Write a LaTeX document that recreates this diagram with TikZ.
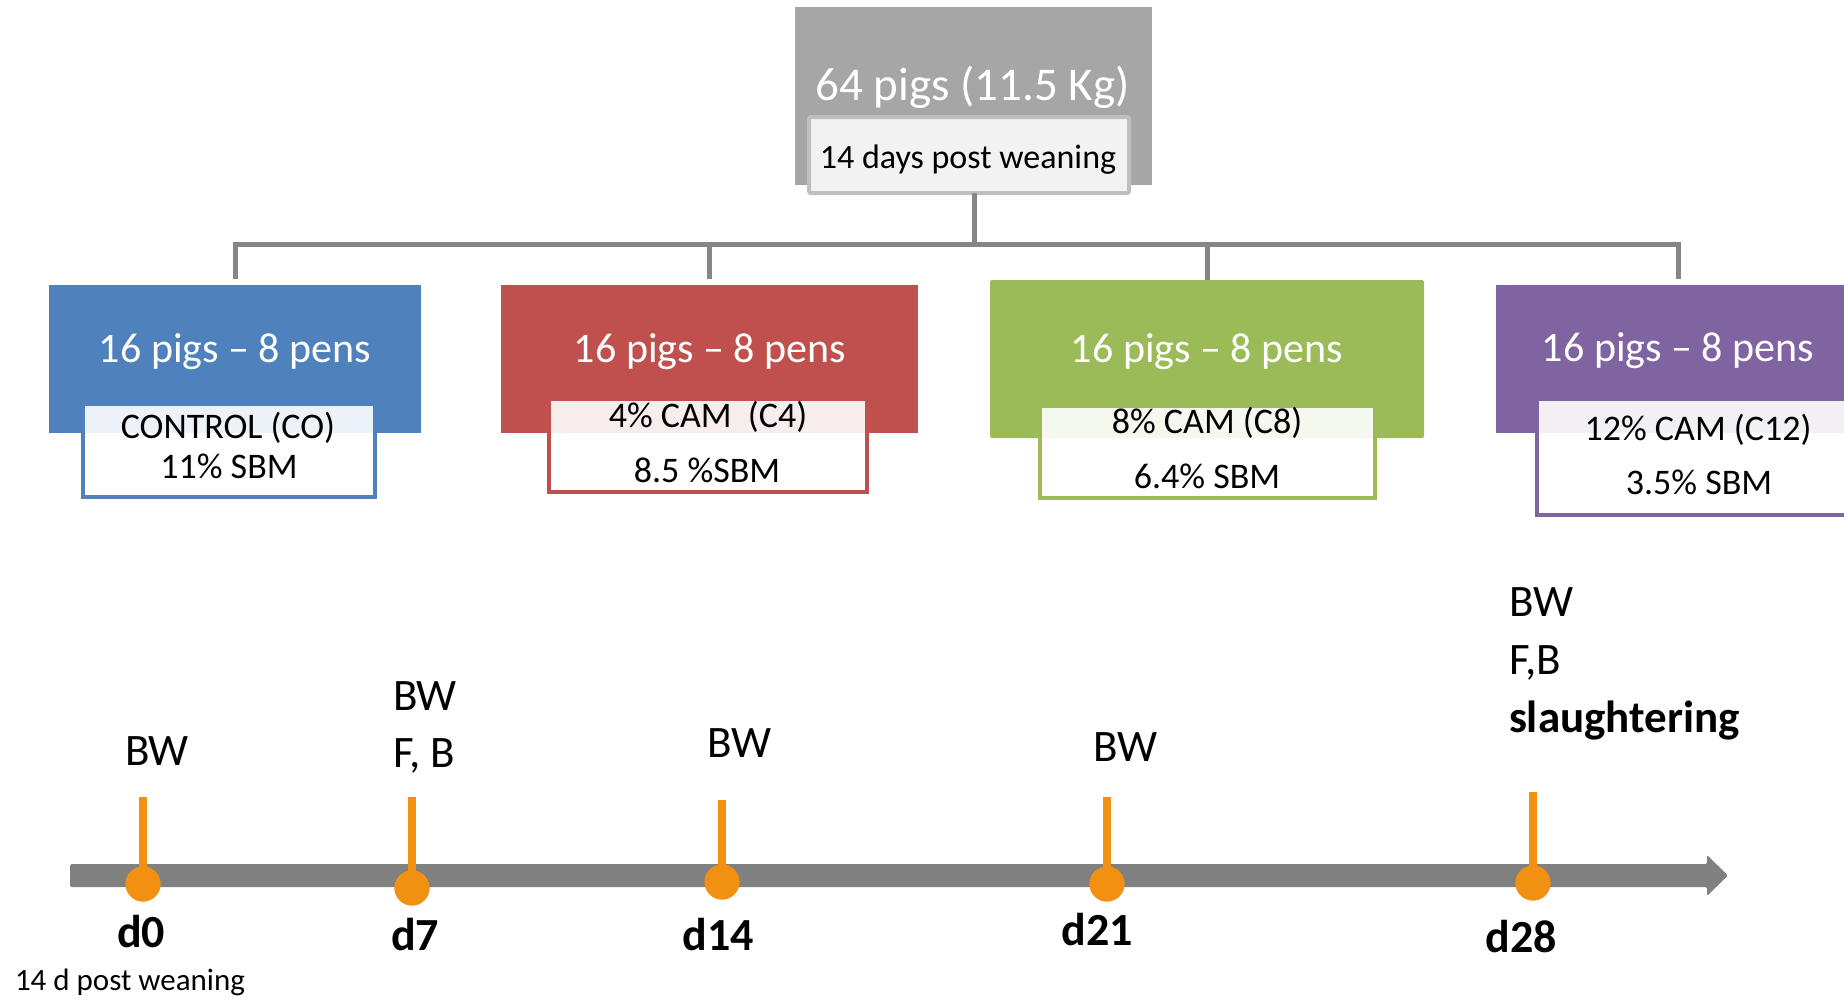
\documentclass[tikz,border=0pt]{standalone}
\usepackage{fontspec}
\setmainfont{Carlito}
\usetikzlibrary{calc}
\definecolor{topgray}{HTML}{A6A6A6}
\definecolor{subgray}{HTML}{F2F2F2}
\definecolor{subline}{HTML}{BFBFBF}
\definecolor{conngray}{HTML}{868686}
\definecolor{bargray}{HTML}{808080}
\definecolor{cblue}{HTML}{4F81BD}
\definecolor{cred}{HTML}{C0504D}
\definecolor{cgreen}{HTML}{9BBB59}
\definecolor{cpurple}{HTML}{8064A2}
\definecolor{corange}{RGB}{242,145,17}
\begin{document}
\begin{tikzpicture}[x=1pt,y=-1pt,
  box/.style={rectangle,inner sep=0,outer sep=0,draw=none},
  subbox/.style={rectangle,inner sep=0,outer sep=0,line width=4pt,fill=white,fill opacity=0.9},
  conn/.style={draw=conngray,line width=5pt},
  txt/.style={inner sep=0,outer sep=0,anchor=base},
  ftop/.style={font=\fontsize{47}{56}\selectfont},
  fsub/.style={font=\fontsize{34}{40}\selectfont},
  fbig/.style={font=\fontsize{42}{50}\selectfont},
  fin/.style={font=\fontsize{36}{43}\selectfont},
  flab/.style={font=\fontsize{45}{54}\selectfont},
  fday/.style={font=\fontsize{46}{55}\selectfont\bfseries},
  fsmall/.style={font=\fontsize{31}{37}\selectfont},
  dotm/.style={circle,fill=corange,minimum size=35pt,inner sep=0,outer sep=0},
  tickline/.style={draw=corange,line width=7.5pt}
]
\useasboundingbox (0,0) rectangle (1844,1001);
\clip (0,0) rectangle (1844,1001);

% top box
\node[box,fill=topgray,minimum width=357pt,minimum height=178pt] (top) at (973.5,96) {};
\node[txt,ftop,text=white] (toptxt) at (972.5,100) {64 pigs (11.5 Kg)};
\node[rectangle,inner sep=0,outer sep=0,line width=4pt,draw=subline,fill=subgray,rounded corners=2pt,
      minimum width=320pt,minimum height=76pt] (topsub) at (969,155) {};
\node[txt,fsub] (topsubtxt) at (968,168) {14 days post weaning};

% group boxes
\node[box,fill=cblue,minimum width=372pt,minimum height=148pt] (b1) at (235,359) {};
\node[box,fill=cred,minimum width=417pt,minimum height=148pt] (b2) at (709.5,359) {};
\node[box,fill=cgreen,minimum width=434pt,minimum height=158pt,rounded corners=2pt] (b3) at (1207,359) {};
\node[box,fill=cpurple,minimum width=364pt,minimum height=148pt] (b4) at (1678,359) {};

\node[txt,fbig,text=white] (t1) at (235,362) {16 pigs – 8 pens};
\node[txt,fbig,text=white] (t2) at (710,362) {16 pigs – 8 pens};
\node[txt,fbig,text=white] (t3) at (1207,362) {16 pigs – 8 pens};
\node[txt,fbig,text=white] (t4) at (1678,361) {16 pigs – 8 pens};

\node[subbox,draw=cblue,minimum width=292pt,minimum height=93pt] (s1) at (229,450.5) {};
\node[subbox,draw=cred,minimum width=318pt,minimum height=93pt] (s2) at (708,445.5) {};
\node[subbox,draw=cgreen,minimum width=335pt,minimum height=92pt] (s3) at (1207.5,452) {};
\node[subbox,draw=cpurple,minimum width=322pt,minimum height=116pt] (s4) at (1698,457) {};

\node[txt,fin] (s1a) at (228,438) {CONTROL (CO)};
\node[txt,fin] (s1b) at (229,478) {11\% SBM};
\node[txt,fin] (s2a) at (708,427) {4\% CAM\ \ (C4)};
\node[txt,fin] (s2b) at (707,482) {8.5 \%SBM};
\node[txt,fin] (s3a) at (1207,433) {8\% CAM (C8)};
\node[txt,fin] (s3b) at (1207,488) {6.4\% SBM};
\node[txt,fin] (s4a) at (1698,440) {12\% CAM (C12)};
\node[txt,fin] (s4b) at (1699,494) {3.5\% SBM};

% connectors
\coordinate (bus) at (974,244);
\draw[conn] (bus |- topsub.south) -- (bus);
\draw[conn] ([yshift=6pt]b1.north) |- (b4.north |- bus) -- ([yshift=6pt]b4.north);
\draw[conn] ([yshift=6pt]b2.north) -- (b2.north |- bus);
\draw[conn] (b3.north) -- (b3.north |- bus);

% timeline
\coordinate (tstart) at (70,875.5);
\coordinate (ttip) at (1728,875.5);
\fill[bargray,rounded corners=1.5pt] ($(tstart)+(0,-11.5)$) -- ($(ttip)+(-21,-11.5)$) -- ($(ttip)+(-21,-20.5)$)
  -- (ttip) -- ($(ttip)+(-21,20.5)$) -- ($(ttip)+(-21,11.5)$) -- ($(tstart)+(0,11.5)$) -- cycle;

% markers
\node[dotm] (m0) at (143,884) {};
\node[dotm] (m7) at (412,888) {};
\node[dotm] (m14) at (722,882) {};
\node[dotm] (m21) at (1107,884) {};
\node[dotm] (m28) at (1533,883) {};
\coordinate (k0) at (143,797);
\coordinate (k7) at (412,797);
\coordinate (k14) at (722,800);
\coordinate (k21) at (1107,797);
\coordinate (k28) at (1533,792);
\draw[tickline] (k0) -- (m0.center);
\draw[tickline] (k7) -- (m7.center);
\draw[tickline] (k14) -- (m14.center);
\draw[tickline] (k21) -- (m21.center);
\draw[tickline] (k28) -- (m28.center);
\node[dotm] at (m0) {};
\node[dotm] at (m7) {};
\node[dotm] at (m14) {};
\node[dotm] at (m21) {};
\node[dotm] at (m28) {};

% day labels
\node[txt,fday] (l0) at (141,947) {d0};
\node[txt,fday] (l7) at (415,950) {d7};
\node[txt,fday] (l14) at (718,950) {d14};
\node[txt,fday] (l21) at (1097,945) {d21};
\node[txt,fday] (l28) at (1521,952) {d28};
\node[inner sep=0,outer sep=0,anchor=base west,fsmall] (pw) at (15,990) {14 d post weaning};

% measurement labels
\node[txt,flab] (u0) at (157,765) {BW};
\node[inner sep=0,outer sep=0,anchor=base west,flab] (u7a) at (393,710) {BW};
\node[inner sep=0,outer sep=0,anchor=base west,flab] (u7b) at (393,767) {F, B};
\node[txt,flab] (u14) at (739,757) {BW};
\node[txt,flab] (u21) at (1125,761) {BW};
\node[inner sep=0,outer sep=0,anchor=base west,flab] (u28a) at (1509,616) {BW};
\node[inner sep=0,outer sep=0,anchor=base west,flab] (u28b) at (1509,674) {F,B};
\node[inner sep=0,outer sep=0,anchor=base west,flab,font=\fontsize{45}{54}\selectfont\bfseries] (u28c) at (1509,732) {slaughtering};
\end{tikzpicture}
\end{document}
